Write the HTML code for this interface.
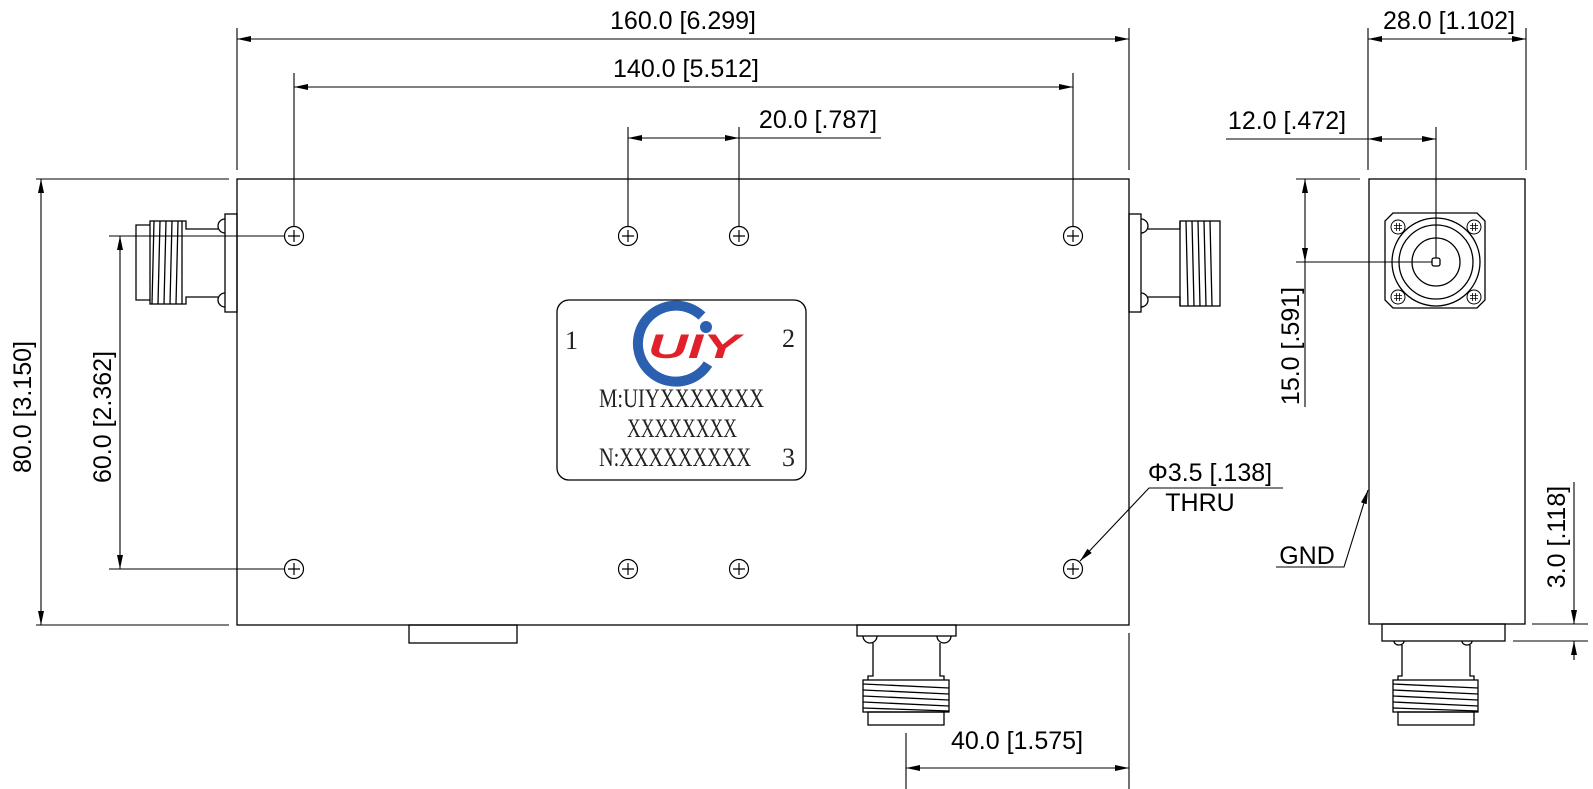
<!DOCTYPE html>
<html><head><meta charset="utf-8"><style>
html,body{margin:0;padding:0;background:#fff;}
svg{display:block;}
text{font-family:"Liberation Sans",sans-serif;font-size:25px;fill:#000;}
.s{font-family:"Liberation Serif","Noto Serif CJK SC",serif;font-size:26px;fill:#222;}
</style></head><body>
<svg width="1593" height="789" viewBox="0 0 1593 789" xmlns="http://www.w3.org/2000/svg">
<defs>
<marker id="a" viewBox="0 0 14 6" refX="14" refY="3" markerWidth="14" markerHeight="6" markerUnits="userSpaceOnUse" orient="auto-start-reverse"><path d="M0,0L14,3L0,6z" fill="#000"/></marker>
<g id="hole"><circle r="9.5" fill="none" stroke="#000" stroke-width="1.2"/><path d="M-6,0H6M0,-6V6" stroke="#000" stroke-width="1.2"/></g>
<g id="scr"><circle r="7" fill="none" stroke="#000" stroke-width="1"/><path d="M-4,-1.5H4M-4,1.5H4M-1.5,-4V4M1.5,-4V4" stroke="#000" stroke-width="0.8"/></g>
</defs>
<g fill="none" stroke="#000" stroke-width="1.3">
<rect x="237" y="179" width="892" height="446"/>
<rect x="409" y="625" width="108" height="18"/>
<rect x="225" y="214" width="12" height="98"/>
<path d="M225,219a7,7 0 0 0 0,14M225,293a7,7 0 0 0 0,14"/>
<path d="M218,229H186V221H182M218,297H186V304H182"/>
<rect x="150" y="221" width="32" height="83"/>
<path d="M150,225H136V300H150"/>
<path d="M154,221L152,304M160,221L158,304M166,221L164,304M172,221L170,304M178,221L176,304"/>
<rect x="1129" y="214" width="12" height="98"/>
<path d="M1141,219a7,7 0 0 1 0,14M1141,293a7,7 0 0 1 0,14"/>
<path d="M1148,229H1180V221M1148,297H1180V306"/>
<rect x="1180" y="221" width="40" height="85"/>
<path d="M1186,221L1188,306M1192,221L1194,306M1198,221L1200,306M1204,221L1206,306M1210,221L1212,306"/>
<rect x="857" y="625" width="99" height="11"/>
<path d="M863,636a7,7 0 0 0 14,0M937,636a7,7 0 0 0 14,0"/>
<path d="M873,643V676H868V680M940,643V676H944V680"/>
<rect x="863" y="680" width="86" height="32"/>
<path d="M863,684L949,688M863,690L949,694M863,696L949,700M863,702L949,706M863,708L949,711"/>
<rect x="868" y="712" width="76" height="13"/>
<rect x="557" y="300" width="249" height="180" rx="12"/>
<rect x="1369" y="179" width="156" height="445"/>
<rect x="1382" y="624" width="123" height="17"/>
<path d="M1394,641a5,4 0 0 0 10,0M1462,641a5,4 0 0 0 10,0"/>
<path d="M1402,645V676H1398V680M1470,645V676H1474V680"/>
<rect x="1393" y="680" width="85" height="32"/>
<path d="M1393,684L1478,688M1393,690L1478,694M1393,696L1478,700M1393,702L1478,706M1393,708L1478,711"/>
<rect x="1398" y="712" width="76" height="13"/>
<path d="M1393,213H1477L1485,221V300L1477,308H1393L1385,300V221Z"/>
<circle cx="1436" cy="262" r="44"/><circle cx="1436" cy="262" r="37"/><circle cx="1436" cy="262" r="24"/>
<rect x="1432" y="258" width="8" height="8" rx="2"/>
</g>
<use href="#scr" x="1398" y="227"/><use href="#scr" x="1474" y="227"/><use href="#scr" x="1398" y="297"/><use href="#scr" x="1474" y="297"/>
<use href="#hole" x="294" y="236"/><use href="#hole" x="628" y="236"/><use href="#hole" x="739" y="236"/><use href="#hole" x="1073" y="236"/>
<use href="#hole" x="294" y="569"/><use href="#hole" x="628" y="569"/><use href="#hole" x="739" y="569"/><use href="#hole" x="1073" y="569"/>
<g stroke="#000" stroke-width="1.1" fill="none">
<path d="M237,28V170M1129,28V170M294,73V226M1073,73V226M628,127V226M739,127V226"/>
<path d="M237,39H1129" marker-start="url(#a)" marker-end="url(#a)"/>
<path d="M294,87H1073" marker-start="url(#a)" marker-end="url(#a)"/>
<path d="M628,138H739" marker-start="url(#a)" marker-end="url(#a)"/>
<path d="M739,138H881"/>
<path d="M36,179H229M36,625H229M109,236H284M109,569H284"/>
<path d="M41,179V625" marker-start="url(#a)" marker-end="url(#a)"/>
<path d="M120,236V569" marker-start="url(#a)" marker-end="url(#a)"/>
<path d="M906,733V789M1129,633V789"/>
<path d="M906,768H1129" marker-start="url(#a)" marker-end="url(#a)"/>
<path d="M1283,488H1149L1080,561" marker-end="url(#a)"/>
<path d="M1368,28V170M1526,28V170"/>
<path d="M1368,39H1526" marker-start="url(#a)" marker-end="url(#a)"/>
<path d="M1436,127V258"/>
<path d="M1226,139H1368"/>
<path d="M1368,139H1436" marker-start="url(#a)" marker-end="url(#a)"/>
<path d="M1296,179H1360M1296,262H1432"/>
<path d="M1305,179V262" marker-start="url(#a)" marker-end="url(#a)"/>
<path d="M1305,262V407"/>
<path d="M1532,624H1588M1513,641H1588"/>
<path d="M1574,482V624" marker-end="url(#a)"/>
<path d="M1574,660V641" marker-end="url(#a)"/>
<path d="M1276,567H1344L1368,490" marker-end="url(#a)"/>
</g>
<text x="683" y="29" text-anchor="middle">160.0 [6.299]</text>
<text x="686" y="77" text-anchor="middle">140.0 [5.512]</text>
<text x="818" y="128" text-anchor="middle">20.0 [.787]</text>
<text x="1017" y="749" text-anchor="middle">40.0 [1.575]</text>
<text x="1449" y="29" text-anchor="middle">28.0 [1.102]</text>
<text x="1287" y="129" text-anchor="middle">12.0 [.472]</text>
<text x="1210" y="481" text-anchor="middle">Φ3.5 [.138]</text>
<text x="1200" y="511" text-anchor="middle">THRU</text>
<text x="1307" y="564" text-anchor="middle">GND</text>
<text transform="translate(31,407) rotate(-90)" text-anchor="middle">80.0 [3.150]</text>
<text transform="translate(111,417) rotate(-90)" text-anchor="middle">60.0 [2.362]</text>
<text transform="translate(1299,346) rotate(-90)" text-anchor="middle">15.0 [.591]</text>
<text transform="translate(1565,537) rotate(-90)" text-anchor="middle">3.0 [.118]</text>
<text class="s" x="565" y="349">1</text>
<text class="s" x="782" y="347">2</text>
<text class="s" x="782" y="466">3</text>
<text class="s" x="599" y="407" textLength="165" lengthAdjust="spacingAndGlyphs">M:UIYXXXXXXX</text>
<text class="s" x="627" y="437" textLength="110" lengthAdjust="spacingAndGlyphs">XXXXXXXX</text>
<text class="s" x="599" y="466" textLength="152" lengthAdjust="spacingAndGlyphs">N:XXXXXXXXX</text>
<path d="M702,316 A38,38 0 1 0 708,364" fill="none" stroke="#2b5fb0" stroke-width="10"/>
<circle cx="706" cy="327" r="6" fill="#2b5fb0"/>
<text x="648" y="358" style="font-size:34px;font-weight:bold;font-style:italic;fill:#e0202a;" textLength="92" lengthAdjust="spacingAndGlyphs">UIY</text>
</svg>
</body></html>
